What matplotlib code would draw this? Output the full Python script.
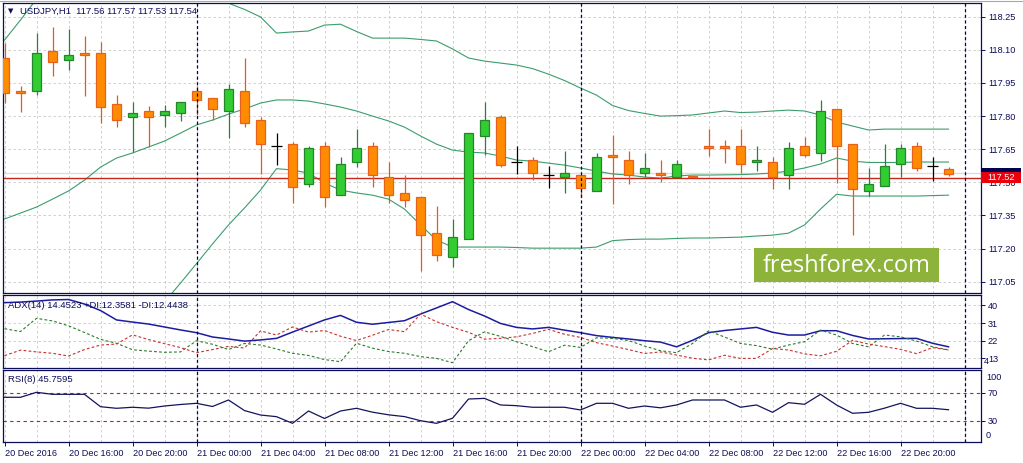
import numpy as np
import matplotlib
matplotlib.use("Agg")
import matplotlib.pyplot as plt
import matplotlib.transforms as mtrans
from matplotlib.patches import Rectangle
from matplotlib.lines import Line2D

# USDJPY H1, 20 Dec 2016 12:00 .. 22 Dec 2016 23:00
opens = [118.062, 117.914, 117.912, 118.095, 118.053, 118.086, 118.084, 117.853, 117.794, 117.822,
         117.803, 117.812, 117.914, 117.880, 117.822, 117.914, 117.781, 117.663, 117.672, 117.491,
         117.663, 117.441, 117.591, 117.663, 117.523, 117.450, 117.432, 117.269, 117.160, 117.242,
         117.711, 117.794, 117.591, 117.600, 117.532, 117.523, 117.532, 117.459, 117.624, 117.600,
         117.541, 117.541, 117.523, 117.529, 117.664, 117.664, 117.664, 117.591, 117.591, 117.532,
         117.663, 117.631, 117.832, 117.672, 117.459, 117.482, 117.582, 117.663, 117.574, 117.560]
highs = [118.132, 117.936, 118.175, 118.205, 118.194, 118.164, 118.137, 117.894, 117.864, 117.844,
         117.851, 117.862, 117.936, 117.880, 117.945, 118.062, 117.794, 117.722, 117.681, 117.663,
         117.681, 117.615, 117.741, 117.681, 117.591, 117.532, 117.432, 117.393, 117.334, 117.722,
         117.865, 117.803, 117.664, 117.615, 117.574, 117.642, 117.532, 117.631, 117.714, 117.642,
         117.633, 117.601, 117.600, 117.529, 117.741, 117.692, 117.741, 117.664, 117.613, 117.681,
         117.705, 117.873, 117.832, 117.672, 117.563, 117.672, 117.672, 117.681, 117.613, 117.570]
lows = [117.860, 117.820, 117.894, 117.981, 118.009, 117.892, 117.770, 117.752, 117.639, 117.660,
        117.752, 117.779, 117.803, 117.781, 117.702, 117.752, 117.539, 117.580, 117.408, 117.480,
        117.389, 117.441, 117.571, 117.480, 117.408, 117.389, 117.100, 117.142, 117.118, 117.242,
        117.622, 117.571, 117.539, 117.509, 117.473, 117.450, 117.435, 117.459, 117.400, 117.491,
        117.525, 117.500, 117.523, 117.524, 117.619, 117.589, 117.541, 117.550, 117.471, 117.471,
        117.613, 117.595, 117.498, 117.260, 117.437, 117.482, 117.523, 117.550, 117.507, 117.530]
closes = [117.903, 117.903, 118.084, 118.043, 118.075, 118.075, 117.842, 117.781, 117.812, 117.794,
          117.822, 117.862, 117.871, 117.831, 117.921, 117.770, 117.672, 117.663, 117.480, 117.654,
          117.432, 117.582, 117.654, 117.532, 117.441, 117.421, 117.260, 117.169, 117.251, 117.722,
          117.781, 117.580, 117.591, 117.541, 117.532, 117.541, 117.473, 117.613, 117.613, 117.532,
          117.563, 117.532, 117.582, 117.524, 117.654, 117.654, 117.582, 117.600, 117.523, 117.654,
          117.622, 117.823, 117.663, 117.471, 117.491, 117.574, 117.654, 117.563, 117.574, 117.540]

bb_upper = [118.144, 118.235, 118.33, 118.37, 118.40, 118.42, 118.43, 118.43, 118.42, 118.42,
            118.41, 118.402, 118.388, 118.343, 118.311, 118.283, 118.249, 118.176, 118.181, 118.185,
            118.212, 118.216, 118.183, 118.153, 118.153, 118.153, 118.147, 118.140, 118.104, 118.063,
            118.049, 118.040, 118.031, 118.015, 117.990, 117.961, 117.927, 117.895, 117.848, 117.825,
            117.812, 117.800, 117.802, 117.805, 117.814, 117.823, 117.816, 117.818, 117.823, 117.827,
            117.823, 117.805, 117.773, 117.755, 117.737, 117.741, 117.741, 117.741, 117.741, 117.741]
bb_mid = [117.334, 117.361, 117.388, 117.424, 117.461, 117.510, 117.569, 117.610, 117.633, 117.660,
          117.687, 117.723, 117.760, 117.782, 117.809, 117.832, 117.859, 117.873, 117.873, 117.868,
          117.855, 117.841, 117.823, 117.800, 117.778, 117.750, 117.710, 117.673, 117.646, 117.637,
          117.633, 117.619, 117.601, 117.596, 117.587, 117.578, 117.565, 117.551, 117.538, 117.533,
          117.524, 117.519, 117.529, 117.533, 117.533, 117.534, 117.535, 117.538, 117.542, 117.551,
          117.565, 117.583, 117.610, 117.596, 117.590, 117.590, 117.590, 117.592, 117.592, 117.592]
bb_lower = [116.524, 116.487, 116.446, 116.478, 116.522, 116.600, 116.708, 116.790, 116.846, 116.900,
            116.958, 117.044, 117.132, 117.221, 117.307, 117.384, 117.465, 117.562, 117.556, 117.542,
            117.497, 117.465, 117.452, 117.442, 117.424, 117.379, 117.307, 117.239, 117.207, 117.207,
            117.207, 117.207, 117.205, 117.202, 117.202, 117.202, 117.202, 117.207, 117.236, 117.241,
            117.243, 117.243, 117.246, 117.248, 117.248, 117.250, 117.252, 117.257, 117.261, 117.270,
            117.307, 117.379, 117.446, 117.438, 117.438, 117.438, 117.438, 117.438, 117.440, 117.442]

adx = [41.4, 41.7, 42.2, 42.8, 43.0, 40.7, 37.4, 32.6, 31.5, 30.5,
       29.0, 27.5, 26.1, 23.9, 22.9, 21.8, 22.4, 23.2, 26.4, 29.5,
       32.6, 34.9, 31.4, 30.4, 31.3, 32.2, 35.6, 38.7, 41.9, 37.9,
       34.6, 30.8, 28.8, 28.0, 28.8, 27.4, 26.1, 24.6, 23.7, 22.9,
       22.0, 21.3, 18.9, 22.2, 26.1, 27.2, 28.0, 28.8, 26.3, 24.9,
       24.9, 27.1, 27.1, 24.7, 22.9, 23.0, 23.1, 23.2, 20.7, 18.9]
plus_di = [28.1, 26.7, 33.4, 32.1, 29.6, 26.2, 22.7, 20.7, 17.4, 16.7,
           16.1, 16.3, 22.0, 20.2, 17.5, 20.6, 19.8, 17.8, 15.6, 14.5,
           12.4, 11.3, 20.7, 18.2, 16.5, 15.6, 13.9, 13.0, 10.8, 22.0,
           26.5, 24.2, 21.5, 19.0, 16.4, 19.7, 18.6, 23.5, 23.2, 22.1,
           19.3, 16.9, 15.9, 20.6, 27.0, 23.9, 20.6, 19.5, 17.7, 19.8,
           21.5, 27.4, 24.9, 20.6, 18.9, 24.9, 24.0, 21.8, 18.9, 17.3]
minus_di = [14.4, 17.2, 16.3, 15.6, 14.2, 17.5, 19.8, 20.3, 25.0, 22.6,
            20.5, 18.5, 15.9, 17.5, 19.1, 18.3, 27.0, 24.9, 29.0, 26.4,
            27.2, 24.3, 22.1, 24.8, 27.7, 26.6, 35.6, 31.7, 28.8, 26.3,
            22.8, 23.2, 24.0, 25.7, 27.8, 25.3, 23.7, 21.0, 19.3, 17.5,
            15.5, 16.3, 14.7, 13.1, 12.2, 14.6, 13.0, 13.0, 18.0, 17.3,
            15.3, 14.3, 16.6, 22.2, 20.3, 19.0, 17.6, 15.4, 18.5, 17.3]
rsi = [63.8, 63.8, 71.0, 68.1, 68.1, 68.1, 50.2, 47.9, 49.4, 48.1,
       51.2, 53.4, 55.1, 50.5, 59.9, 44.6, 38.2, 35.8, 26.2, 44.0,
       33.2, 44.0, 47.9, 42.3, 38.5, 35.9, 30.0, 26.2, 33.5, 61.3,
       62.2, 52.7, 51.7, 49.4, 49.4, 49.4, 45.5, 55.1, 55.1, 47.9,
       51.2, 48.6, 52.7, 59.9, 59.9, 59.9, 49.4, 52.7, 42.1, 56.0,
       53.7, 68.1, 52.7, 40.7, 42.1, 48.1, 55.1, 47.9, 47.9, 45.8]

time_labels = ["20 Dec 2016", "20 Dec 16:00", "20 Dec 20:00", "21 Dec 00:00", "21 Dec 04:00",
               "21 Dec 08:00", "21 Dec 12:00", "21 Dec 16:00", "21 Dec 20:00", "22 Dec 00:00",
               "22 Dec 04:00", "22 Dec 08:00", "22 Dec 12:00", "22 Dec 16:00", "22 Dec 20:00"]
price_ticks = [118.25, 118.10, 117.95, 117.80, 117.65, 117.50, 117.35, 117.20, 117.05]
adx_ticks = [40, 31, 22, 13]
rsi_levels = [70, 30]
day_bars = [12, 36, 60]
bid = 117.52
ask = 117.542

W, H = 1023, 463
navy = "#0c0c5c"
grid_c = "#c8c8c8"
plt.rcParams["font.family"] = ["Liberation Sans", "DejaVu Sans"]

fig = plt.figure(figsize=(W / 100, H / 100), dpi=100)
fig.patch.set_facecolor("white")


def px_rect(x0, y0, x1, y1):
    return [x0 / W, 1 - y1 / H, (x1 - x0) / W, (y1 - y0) / H]


ax_p = fig.add_axes(px_rect(3.3, 3, 981, 293))
ax_a = fig.add_axes(px_rect(3.3, 295, 981, 368))
ax_r = fig.add_axes(px_rect(3.3, 370, 981, 442.3))

n = len(opens)
x = np.arange(n)
for ax in (ax_p, ax_a, ax_r):
    for s in ax.spines.values():
        s.set_color(navy)
        s.set_linewidth(0.9)
    ax.set_xlim(-0.075, 61.03)
    ax.yaxis.tick_right()
    ax.tick_params(axis="y", direction="out", length=3, width=0.7, color=navy,
                   labelcolor=navy, labelsize=6.6, pad=2)
    ax.tick_params(axis="x", bottom=False, labelbottom=False)
    for g in range(0, 62, 2):
        ax.axvline(g, color=grid_c, lw=0.6, dashes=(3, 3), zorder=0.5)
    for d in day_bars:
        ax.axvline(d, color="#000060", lw=0.9, dashes=(2.5, 2), zorder=6)

# ---- price panel
o, h, l, c = map(np.array, (opens, highs, lows, closes))
ax_p.set_ylim(116.999, 118.312)
ax_p.set_yticks(price_ticks)
ax_p.set_yticklabels(["%.2f" % p for p in price_ticks])
for p in price_ticks:
    ax_p.axhline(p, color=grid_c, lw=0.6, dashes=(3, 3), zorder=0.5)

ax_p.plot(x, bb_upper, color="#3c9c6c", lw=0.8, zorder=2)
ax_p.plot(x, bb_mid, color="#3c9c6c", lw=0.8, zorder=2)
ax_p.plot(x, bb_lower, color="#3c9c6c", lw=0.8, zorder=2)

ax_p.axhline(ask, color="#ead8d8", lw=1.0, zorder=1.5)
ax_p.axhline(bid, color="#c4281c", lw=1.0, zorder=2.5)

up = c > o
dn = c < o
dj = c == o
ax_p.vlines(x[up], l[up], h[up], color="#23872a", lw=0.9, zorder=3)
ax_p.bar(x[up], c[up] - o[up], bottom=o[up], width=0.58, color="#33cc33",
         edgecolor="#23872a", lw=0.9, zorder=4)
ax_p.vlines(x[dn], l[dn], h[dn], color="#e8581a", lw=0.9, zorder=3)
ax_p.bar(x[dn], o[dn] - c[dn], bottom=c[dn], width=0.58, color="#ff8c00",
         edgecolor="#e8601c", lw=0.9, zorder=4)
ax_p.vlines(x[dj], l[dj], h[dj], color="black", lw=0.9, zorder=4)
ax_p.hlines(o[dj], x[dj] - 0.34, x[dj] + 0.34, color="black", lw=0.9, zorder=4)

# price labels for ask / bid on the right scale
bt = mtrans.blended_transform_factory(ax_p.transAxes, ax_p.transData)
bw = 40 / 977.7
bh = 11 * (118.312 - 116.999) / 290
ax_p.add_patch(Rectangle((1.0, ask - bh / 2), bw, bh, transform=bt, fc="#000050",
                         ec="none", clip_on=False, zorder=7))
ax_p.add_patch(Rectangle((1.0, bid - bh / 2), bw, bh, transform=bt, fc="#e8000c",
                         ec="none", clip_on=False, zorder=8))
ax_p.text(1.0 + bw / 2, bid, "%.2f" % bid, transform=bt, color="white", fontsize=6.6,
          ha="center", va="center", zorder=9)

fig.text(8 / W, 1 - 11.5 / H, "\u25bc", color=navy, fontsize=5, va="center",
         family=["DejaVu Sans"])
fig.text(19.5 / W, 1 - 11.5 / H, "USDJPY,H1  117.56 117.57 117.53 117.54",
         color=navy, fontsize=6.8, va="center")

# watermark
fig.add_artist(Rectangle((754.3 / W, 1 - 281.7 / H), 185 / W, 33.4 / H,
                         transform=fig.transFigure, fc="#8db33a", ec="none", zorder=5))
fig.text(846.8 / W, 1 - 265.5 / H, "freshforex.com", color="white", fontsize=17,
         family=["Open Sans", "DejaVu Sans"], ha="center", va="center", zorder=6)

# ---- ADX panel
ax_a.set_ylim(8.1, 45.3)
ax_a.set_yticks(adx_ticks)
ax_a.set_yticklabels([str(t) for t in adx_ticks])
for t in adx_ticks:
    ax_a.axhline(t, color=grid_c, lw=0.6, dashes=(3, 3), zorder=0.5)
ax_a.plot(x, adx, color="#1c1ca0", lw=1.1, zorder=3)
ax_a.plot(x, plus_di, color="#2a7a2a", lw=0.8, dashes=(2.5, 2), zorder=3)
ax_a.plot(x, minus_di, color="#c83030", lw=0.8, dashes=(2.5, 2), zorder=3)
fig.text(8.3 / W, 1 - 305 / H, "ADX(14) 14.4523 +DI:12.3581 -DI:12.4438",
         color=navy, fontsize=6.8, va="center")
fig.text(984 / W, 1 - 362 / H, "4", color=navy, fontsize=6.6, va="center")

# ---- RSI panel
ax_r.set_ylim(-1.2, 103.2)
ax_r.set_yticks(rsi_levels)
ax_r.set_yticklabels([str(t) for t in rsi_levels])
for lv in rsi_levels:
    ax_r.axhline(lv, color="#b02828", lw=0.8, dashes=(3, 3), zorder=1)
ax_r.plot(x, rsi, color="#14145e", lw=0.9, zorder=3)
fig.text(8.3 / W, 1 - 380 / H, "RSI(8) 45.7595", color=navy, fontsize=6.8, va="center")
fig.text(986 / W, 1 - 377.7 / H, "100", color=navy, fontsize=6.6, va="center")
fig.text(986 / W, 1 - 435.7 / H, "0", color=navy, fontsize=6.6, va="center")

ax_r.set_xticks(np.arange(0, n, 4))
ax_r.set_xticklabels(time_labels, ha="left")
ax_r.tick_params(axis="x", bottom=True, labelbottom=True, direction="out", length=3,
                 width=0.7, color=navy, labelcolor=navy, labelsize=6.6, pad=1.5)

fig.add_artist(Line2D([0, 1], [1 - 1 / H, 1 - 1 / H], transform=fig.transFigure,
                      color="#a8a8a8", lw=0.8))

fig.savefig("out.png", dpi=100)
